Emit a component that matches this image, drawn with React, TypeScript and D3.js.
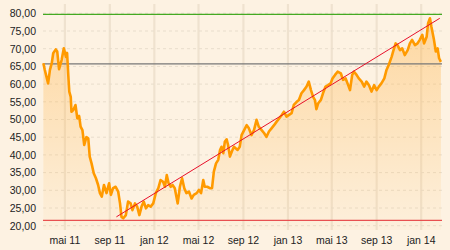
import React from "react";
import * as d3 from "d3";

const dates: string[] = [
  "2011-03-03","2011-03-07","2011-03-16","2011-03-21","2011-03-26","2011-03-30","2011-04-06","2011-04-10","2011-04-15","2011-04-22",
  "2011-04-28","2011-05-04","2011-05-07","2011-05-10","2011-05-13","2011-05-17","2011-05-19","2011-05-24","2011-05-30","2011-06-04",
  "2011-06-09","2011-06-13","2011-06-18","2011-06-23","2011-06-29","2011-07-04","2011-07-08","2011-07-13","2011-07-19","2011-07-25",
  "2011-07-31","2011-08-05","2011-08-10","2011-08-16","2011-08-23","2011-08-30","2011-09-04","2011-09-10","2011-09-17","2011-09-24",
  "2011-09-29","2011-10-03","2011-10-08","2011-10-15","2011-10-21","2011-10-28","2011-11-02","2011-11-09","2011-11-15","2011-11-21",
  "2011-11-27","2011-12-03","2011-12-09","2011-12-15","2011-12-22","2011-12-29","2012-01-05","2012-01-12","2012-01-18","2012-01-25",
  "2012-01-30","2012-02-04","2012-02-09","2012-02-15","2012-02-20","2012-02-26","2012-03-05","2012-03-11","2012-03-17","2012-03-23",
  "2012-03-29","2012-04-05","2012-04-12","2012-04-18","2012-04-26","2012-05-02","2012-05-08","2012-05-14","2012-05-18","2012-05-25",
  "2012-06-01","2012-06-07","2012-06-12","2012-06-18","2012-06-24","2012-06-29","2012-07-03","2012-07-08","2012-07-12","2012-07-17",
  "2012-07-21","2012-07-26","2012-07-31","2012-08-06","2012-08-16","2012-08-22","2012-08-27","2012-09-03","2012-09-10","2012-09-16",
  "2012-09-23","2012-09-30","2012-10-07","2012-10-13","2012-10-21","2012-10-28","2012-11-03","2012-11-10","2012-11-17","2012-11-24",
  "2012-12-01","2012-12-08","2012-12-15","2012-12-21","2012-12-28","2013-01-04","2013-01-11","2013-01-17","2013-01-25","2013-01-31",
  "2013-02-07","2013-02-14","2013-02-21","2013-02-27","2013-03-05","2013-03-11","2013-03-16","2013-03-20","2013-03-25","2013-04-01",
  "2013-04-07","2013-04-14","2013-04-21","2013-04-28","2013-05-03","2013-05-10","2013-05-17","2013-05-26","2013-06-01","2013-06-08",
  "2013-06-15","2013-06-20","2013-06-26","2013-07-01","2013-07-08","2013-07-14","2013-07-22","2013-07-29","2013-08-04","2013-08-11",
  "2013-08-18","2013-08-25","2013-09-01","2013-09-07","2013-09-14","2013-09-22","2013-09-28","2013-10-04","2013-10-12","2013-10-16",
  "2013-10-23","2013-10-28","2013-11-04","2013-11-10","2013-11-17","2013-11-25","2013-12-01","2013-12-07","2013-12-15","2013-12-22",
  "2013-12-28","2014-01-04","2014-01-09","2014-01-16","2014-01-20","2014-01-25","2014-01-29","2014-02-05","2014-02-10","2014-02-15",
  "2014-02-19","2014-02-24"
];

const prices: number[] = [
  65.9,64.0,60.2,64.0,65.9,68.7,69.8,69.2,64.2,66.8,
  70.1,67.7,68.8,63.0,57.9,56.4,52.2,52.7,54.1,50.3,
  51.0,48.0,47.0,42.8,45.0,44.7,39.5,37.6,34.8,33.4,
  31.5,29.2,28.2,31.5,29.2,32.0,28.7,30.6,31.0,29.6,
  26.3,22.5,22.1,23.0,26.8,26.3,24.4,26.3,25.4,23.0,
  25.4,26.8,24.9,25.8,25.4,26.3,29.2,30.6,32.9,32.4,
  31.0,34.3,32.0,31.0,31.5,30.6,26.3,31.0,33.4,30.6,
  29.2,29.6,27.7,28.7,29.2,30.1,29.2,32.9,31.0,31.0,
  30.6,30.6,35.3,37.6,38.6,41.4,42.3,40.5,43.7,44.4,
  42.8,39.5,40.9,42.3,41.4,42.3,45.6,47.0,48.4,47.5,
  45.6,47.0,49.9,48.0,47.0,46.1,45.1,46.6,47.5,48.4,
  49.4,50.3,51.3,52.2,50.8,51.3,51.8,54.1,55.0,55.5,
  57.4,58.3,59.3,60.7,58.3,56.4,55.5,52.9,54.6,55.5,
  57.4,59.3,59.7,60.2,61.6,62.6,63.5,63.0,61.2,61.6,
  59.7,58.3,62.6,63.5,62.6,61.6,60.7,59.3,60.7,59.7,
  57.9,59.7,58.3,59.3,60.2,61.6,64.0,65.4,67.7,69.2,
  71.5,71.0,69.6,70.1,68.2,69.6,71.5,72.5,71.0,71.5,
  72.5,73.9,71.5,73.4,77.2,78.6,76.2,72.5,69.2,70.1,
  67.3,66.3
];

const yTicks: number[] = [20, 25, 30, 35, 40, 45, 50, 55, 60, 65, 70, 75, 80];
const xTickDates: string[] = ["2011-05-01","2011-09-01","2012-01-01","2012-05-01","2012-09-01","2013-01-01","2013-05-01","2013-09-01","2014-01-01"];
const xTickLabels: string[] = ["mai 11","sep 11","jan 12","mai 12","sep 12","jan 13","mai 13","sep 13","jan 14"];
const resistanceLevel = 79.7;
const pivotLevel = 65.7;
const supportLevel = 21.5;
const trendDates: string[] = ["2011-09-19", "2014-02-21"];
const trendValues: number[] = [22.5, 78.6];
const xDomain: string[] = ["2011-03-02", "2014-02-27"];

const parse = d3.timeParse("%Y-%m-%d");

export default function App() {
  const W = 450, H = 250;
  const left = 43, right = 442, top = 4, bottom = 230;
  const x = d3.scaleTime().domain(xDomain.map((d) => parse(d) as Date)).range([left, right]);
  const y = d3.scaleLinear().domain([20, 80]).range([225.7, 13.3]);
  const data = dates.map((d, i) => ({ t: parse(d) as Date, v: prices[i] }));
  const line = d3.line<{ t: Date; v: number }>().x((d) => x(d.t)).y((d) => y(d.v));
  const area = d3.area<{ t: Date; v: number }>().x((d) => x(d.t)).y0(bottom).y1((d) => y(d.v));
  const fmt = (v: number) => v.toFixed(2).replace(".", ",");
  const font = "'Liberation Sans', Arial, sans-serif";
  const trend = trendDates.map((d, i) => ({ t: parse(d) as Date, v: trendValues[i] }));

  return (
    <svg width={W} height={H} style={{ position: "fixed", left: 0, top: 0, display: "block" }}>
      <defs>
        <linearGradient id="fillg" x1="0" y1="0" x2="0" y2="1" gradientUnits="objectBoundingBox">
          <stop offset="0" stopColor="#ffb347" stopOpacity={0.42} />
          <stop offset="1" stopColor="#ffb347" stopOpacity={0.04} />
        </linearGradient>
      </defs>
      <rect x={0} y={0} width={W} height={H} fill="#fdf2e2" />
      {xTickDates.map((d, i) => (
        <line key={"vg" + i} x1={x(parse(d) as Date)} x2={x(parse(d) as Date)} y1={top} y2={bottom} stroke="#efe2cf" strokeWidth={2.2} />
      ))}
      {yTicks.map((v) => (
        <line key={"hg" + v} x1={left} x2={right} y1={y(v)} y2={y(v)} stroke="#e8ddcc" strokeWidth={1} strokeDasharray="3,3" />
      ))}
      <path d={area(data) || ""} fill="url(#fillg)" />
      <line x1={left} x2={right} y1={y(resistanceLevel)} y2={y(resistanceLevel)} stroke="#44aa22" strokeWidth={1.2} />
      <line x1={left} x2={right} y1={y(pivotLevel)} y2={y(pivotLevel)} stroke="#777" strokeWidth={1.2} />
      <line x1={left} x2={right} y1={y(supportLevel)} y2={y(supportLevel)} stroke="#e85050" strokeWidth={1.2} />
      <path d={line(data) || ""} fill="none" stroke="#ff9a00" strokeWidth={2.6} strokeLinejoin="round" />
      <line x1={x(trend[0].t)} y1={y(trend[0].v)} x2={x(trend[1].t)} y2={y(trend[1].v)} stroke="#e8102a" strokeWidth={1} />
      {yTicks.map((v) => (
        <text key={"yl" + v} x={36} y={y(v) + 3.8} textAnchor="end" fontFamily={font} fontSize={10.5} fill="#222">{fmt(v)}</text>
      ))}
      {xTickDates.map((d, i) => (
        <text key={"xl" + i} x={x(parse(d) as Date)} y={244} textAnchor="middle" fontFamily={font} fontSize={10.5} fill="#222">{xTickLabels[i]}</text>
      ))}
    </svg>
  );
}
